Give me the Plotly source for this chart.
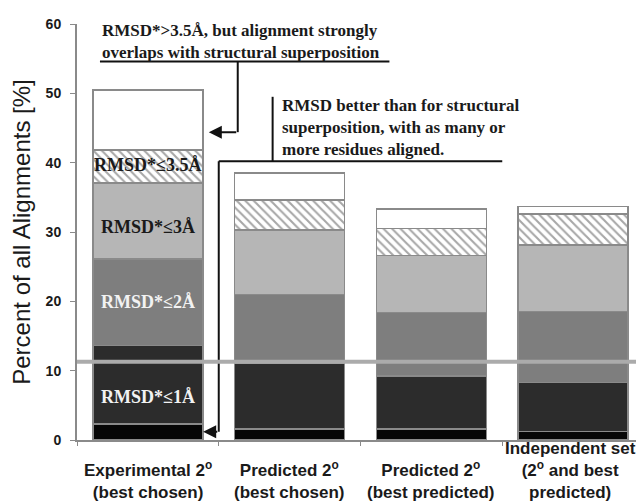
import plotly.graph_objects as go

categories = ["Experimental 2<sup>o</sup><br>(best chosen)",
              "Predicted 2<sup>o</sup><br>(best chosen)",
              "Predicted 2<sup>o</sup><br>(best predicted)",
              "Independent set<br>(2<sup>o</sup> and best<br>predicted)"]

# cumulative tops
top_black = [2.3, 1.6, 1.6, 1.2]
top_1A = [13.6, 11.0, 9.2, 8.3]
top_2A = [26.1, 21.0, 18.4, 18.5]
top_3A = [37.1, 30.3, 26.6, 28.1]
top_35A = [41.8, 34.6, 30.5, 32.6]
top_total = [50.5, 38.5, 33.3, 33.7]

tops = [top_black, top_1A, top_2A, top_3A, top_35A, top_total]
names = ["black", "RMSD*≤1Å", "RMSD*≤2Å", "RMSD*≤3Å", "RMSD*≤3.5Å", "RMSD*>3.5Å overlap"]
colors = ["#060606", "#2c2c2c", "#7e7e7e", "#b6b6b6", "#ffffff", "#ffffff"]

fig = go.Figure()
prev = [0, 0, 0, 0]
for i, (t, n, c) in enumerate(zip(tops, names, colors)):
    vals = [a - b for a, b in zip(t, prev)]
    marker = dict(color=c, line=dict(color="#8a8a8a", width=1.5))
    if i == 4:
        marker["pattern"] = dict(shape="\\", fgcolor="#505050", bgcolor="#ffffff",
                                 size=6, solidity=0.35, fillmode="overlay")
    fig.add_trace(go.Bar(x=categories, y=vals, name=n, marker=marker, width=0.775,
                         showlegend=False, hoverinfo="skip"))
    prev = t

serif = "Liberation Serif, Times New Roman, serif"
sans = "Liberation Sans, Arial, sans-serif"
ann = []
# labels inside first bar
bar_labels = [("RMSD*≤3.5Å", 39.6, "#1a1a1a"), ("RMSD*≤3Å", 30.7, "#1a1a1a"),
              ("RMSD*≤2Å", 19.9, "#f2f2f2"), ("RMSD*≤1Å", 6.2, "#f2f2f2")]
for txt, y, col in bar_labels:
    ann.append(dict(x=0, y=y, xref="x", yref="y", text="<b>%s</b>" % txt, showarrow=False,
                    font=dict(family=serif, size=18, color=col)))

ann.append(dict(x=-0.338, y=57.5, xref="x", yref="y", xanchor="left", yanchor="middle",
                align="left", showarrow=False,
                text="<b>RMSD*>3.5Å, but alignment strongly<br>overlaps with structural superposition</b>",
                font=dict(family=serif, size=17, color="#1a1a1a")))
ann.append(dict(x=0.93, y=45.1, xref="x", yref="y", xanchor="left", yanchor="middle",
                align="left", showarrow=False,
                text="<b>RMSD better than for structural<br>superposition, with as many or<br>more residues aligned.</b>",
                font=dict(family=serif, size=17, color="#1a1a1a")))

# category labels, bottom aligned below the axis
for i, cat in enumerate(categories):
    ann.append(dict(x=i, y=-0.155, xref="x", yref="paper", xanchor="center", yanchor="bottom",
                    text="<b>%s</b>" % cat, showarrow=False, align="center",
                    xshift=-3 if i == 3 else 0,
                    font=dict(family=sans, size=17, color="#1a1a1a")))

# arrows
ann.append(dict(x=0.43, y=44.4, ax=0.634, ay=44.4, xref="x", yref="y", axref="x", ayref="y",
                text="", showarrow=True, arrowhead=2, arrowsize=1.3, arrowwidth=2, arrowcolor="#111"))
ann.append(dict(x=0.39, y=1.2, ax=0.5, ay=1.2, xref="x", yref="y", axref="x", ayref="y",
                text="", showarrow=True, arrowhead=2, arrowsize=1.3, arrowwidth=2, arrowcolor="#111"))

line = dict(color="#111", width=2)
shapes = [
    dict(type="line", xref="x", yref="y", x0=-0.338, x1=1.704, y0=54.6, y1=54.6, line=line),
    dict(type="line", xref="x", yref="y", x0=0.634, x1=0.634, y0=54.6, y1=44.4, line=line),
    dict(type="line", xref="x", yref="y", x0=0.5, x1=2.5, y0=40.2, y1=40.2, line=line),
    dict(type="line", xref="x", yref="y", x0=0.88, x1=0.88, y0=49.5, y1=40.2, line=line),
    dict(type="line", xref="x", yref="y", x0=0.5, x1=0.5, y0=40.2, y1=1.2, line=line),
    dict(type="line", xref="paper", yref="y", x0=0, x1=1, y0=11.3, y1=11.3,
         line=dict(color="#ababab", width=4)),
]

# the page body adds an 8px margin, so the figure is sized to fit the 644x504 window
fig.update_layout(
    width=636, height=496,
    margin=dict(l=69, r=0, t=16, b=64),
    barmode="stack", bargap=0.2,
    paper_bgcolor="white", plot_bgcolor="white",
    annotations=ann, shapes=shapes,
    font=dict(family=sans, color="#1a1a1a"),
)
fig.update_xaxes(type="category", range=[-0.5, 3.5], showline=True, linecolor="#8a8a8a",
                 linewidth=2, ticks="outside", tickson="boundaries", ticklen=4,
                 tickcolor="#8a8a8a", showgrid=False, showticklabels=False, automargin=False)
fig.update_yaxes(range=[0, 60], dtick=10, showline=True, linecolor="#8a8a8a", linewidth=2,
                 ticks="outside", ticklen=5, tickcolor="#8a8a8a", showgrid=False, zeroline=False,
                 automargin=False, ticklabelstandoff=6,
                 tickfont=dict(family=sans, size=14, color="#1a1a1a", weight="bold"),
                 title=dict(text="Percent of all Alignments [%]", standoff=8,
                            font=dict(family=sans, size=24, color="#1a1a1a")))

fig.write_html("out.html")
